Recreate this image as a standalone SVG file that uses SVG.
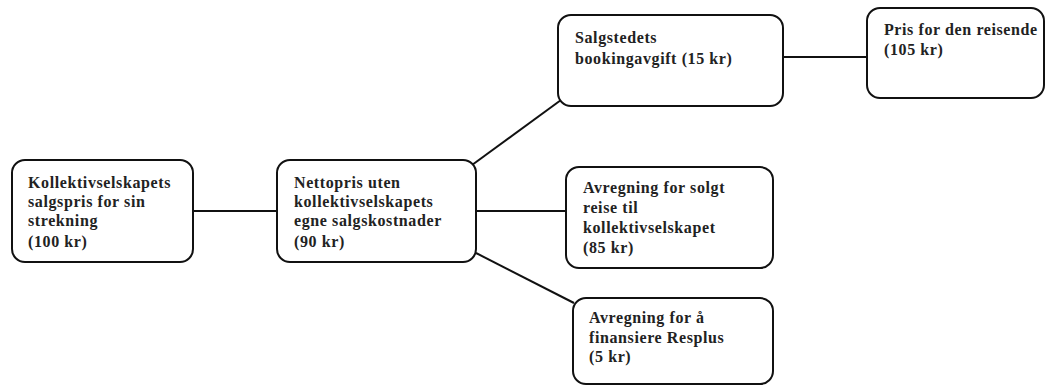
<svg xmlns="http://www.w3.org/2000/svg" width="1046" height="387" viewBox="0 0 1046 387">
<style>
.box{fill:#fff;stroke:#111;stroke-width:2}
.t{font-family:'Liberation Serif','Times New Roman',serif;font-weight:bold;font-size:16px;letter-spacing:0.6px;fill:#222}
.c{stroke:#111;stroke-width:2;fill:none}
</style>
<rect width="1046" height="387" fill="#fff"/>
<g id="connectors">
<line class="c" x1="193" y1="211" x2="277" y2="211"/>
<line class="c" x1="472" y1="165" x2="561" y2="100"/>
<line class="c" x1="476" y1="211" x2="566" y2="211"/>
<line class="c" x1="476" y1="253" x2="574" y2="303"/>
<line class="c" x1="783" y1="57" x2="867" y2="57"/>
</g>
<g id="n1">
<rect class="box" x="12" y="160" width="181" height="102" rx="13"/>
<text class="t" x="28" y="188">Kollektivselskapets</text>
<text class="t" x="28" y="207">salgspris for sin</text>
<text class="t" x="28" y="226">strekning</text>
<text class="t" x="28" y="247">(100 kr)</text>
</g>
<g id="n2">
<rect class="box" x="277" y="160" width="199" height="102" rx="13"/>
<text class="t" x="294" y="188">Nettopris uten</text>
<text class="t" x="294" y="207">kollektivselskapets</text>
<text class="t" x="294" y="226">egne salgskostnader</text>
<text class="t" x="294" y="247">(90 kr)</text>
</g>
<g id="n3">
<rect class="box" x="558" y="15" width="225" height="91" rx="13"/>
<text class="t" x="575" y="43">Salgstedets</text>
<text class="t" x="575" y="64">bookingavgift (15 kr)</text>
</g>
<g id="n4">
<rect class="box" x="867" y="8" width="177" height="90" rx="13"/>
<text class="t" x="884" y="35">Pris for den reisende</text>
<text class="t" x="884" y="55">(105 kr)</text>
</g>
<g id="n5">
<rect class="box" x="566" y="167" width="207" height="101" rx="13"/>
<text class="t" x="583" y="193">Avregning for solgt</text>
<text class="t" x="583" y="213">reise til</text>
<text class="t" x="583" y="233">kollektivselskapet</text>
<text class="t" x="583" y="253">(85 kr)</text>
</g>
<g id="n6">
<rect class="box" x="573" y="298" width="200" height="86" rx="13"/>
<text class="t" x="589" y="323">Avregning for å</text>
<text class="t" x="589" y="343">finansiere Resplus</text>
<text class="t" x="589" y="362">(5 kr)</text>
</g>
</svg>
